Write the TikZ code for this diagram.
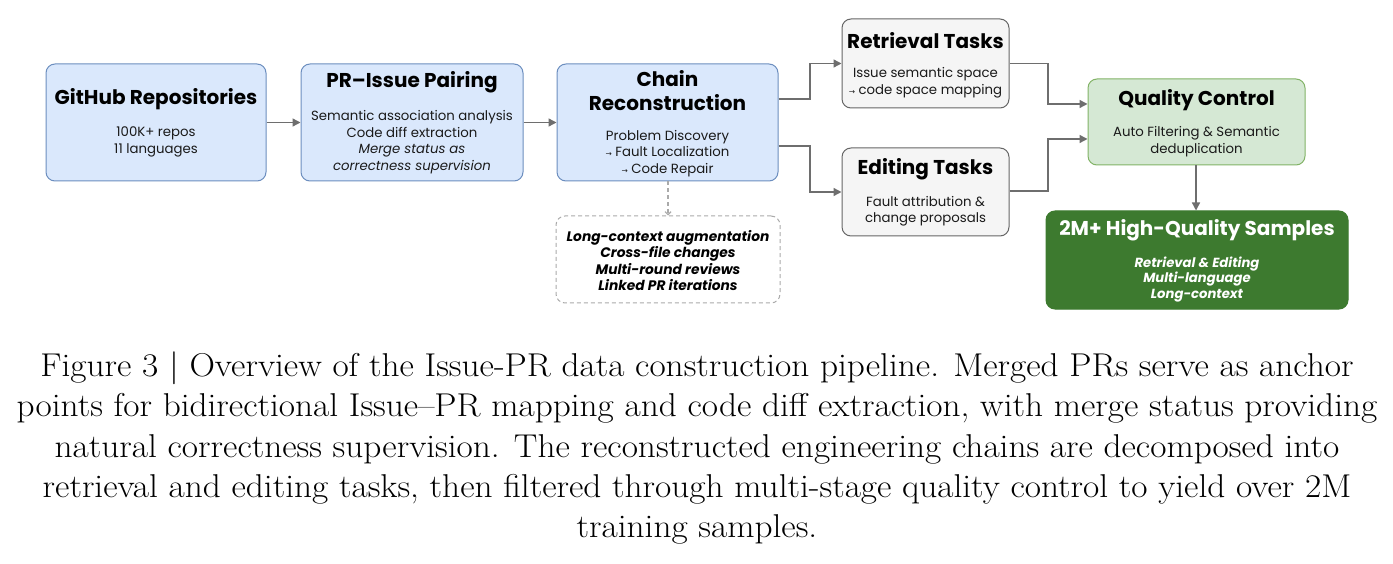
\documentclass[tikz,border=0pt]{standalone}
\usepackage{fontspec}
\newfontfamily\pop{Poppins}
\newfontfamily\djv{DejaVu Sans}
\usetikzlibrary{arrows.meta}
\definecolor{bfill}{HTML}{DAE8FC}
\definecolor{bdraw}{HTML}{6C8EBF}
\definecolor{gfill}{HTML}{F5F5F5}
\definecolor{gdraw}{HTML}{666666}
\definecolor{qfill}{HTML}{D5E8D4}
\definecolor{qdraw}{HTML}{82B366}
\definecolor{dgreen}{HTML}{3D7A2F}
\definecolor{arrc}{HTML}{6E6E6E}
\definecolor{dashc}{HTML}{AAAAAA}
\definecolor{txt}{HTML}{1A1A1A}
\newcommand{\sarr}{{\djv\fontsize{7.5}{7.5}\selectfont →}}
\begin{document}
\begin{tikzpicture}[x=1pt,y=-1pt,
  box/.style={rounded corners=9pt, line width=1pt, inner sep=0pt},
  bluebox/.style={box, fill=bfill, draw=bdraw},
  greybox/.style={box, fill=gfill, draw=gdraw},
  qcbox/.style={box, fill=qfill, draw=qdraw},
  outbox/.style={box, fill=dgreen, draw=dgreen},
  dashbox/.style={box, fill=white, draw=dashc, dashed, dash pattern=on 4pt off 3pt},
  ttl/.style={font=\pop\bfseries\fontsize{20}{24}\selectfont, align=center, inner sep=0pt, text=black},
  bdy/.style={font=\pop\fontsize{13.3}{16.5}\selectfont, align=center, inner sep=0pt, text=txt},
  arr/.style={draw=arrc, line width=1.4pt, -{Triangle[length=8pt,width=8pt]}},
  darr/.style={draw=dashc, line width=1.2pt, dashed, dash pattern=on 4pt off 3pt, -{Straight Barb[length=3pt,width=6pt]}},
]
\useasboundingbox (0,0) rectangle (1393,564);
\fill[white] (0,0) rectangle (1393,564);

% boxes
\node[bluebox, minimum width=220pt, minimum height=117pt] (gh) at (156,122.5) {};
\node[bluebox, minimum width=222pt, minimum height=117pt] (pr) at (412,122.5) {};
\node[bluebox, minimum width=221pt, minimum height=117pt] (ch) at (667.5,122.5) {};
\node[greybox, minimum width=167pt, minimum height=89pt] (ret) at (925.5,63.5) {};
\node[greybox, minimum width=167pt, minimum height=88pt] (edt) at (925.5,192) {};
\node[qcbox, minimum width=217pt, minimum height=86pt] (qc) at (1196.5,122) {};
\node[outbox, minimum width=302pt, minimum height=98pt] (out) at (1197,260) {};
\node[dashbox, minimum width=224pt, minimum height=87pt] (aug) at (668,259.5) {};

% texts
\node[ttl] (ghT) at (156,99) {GitHub Repositories};
\node[bdy] (ghB) at (156,142) {100K+ repos\\11 languages};
\node[ttl] (prT) at (412,82) {PR–Issue Pairing};
\node[bdy] (prB) at (412,142) {Semantic association analysis\\Code diff extraction\\\textit{Merge status as}\\\textit{correctness supervision}};
\node[ttl] (chT) at (667.5,91) {Chain\\Reconstruction};
\node[bdy] (chB) at (667.5,153.5) {Problem Discovery\\\sarr{} Fault Localization\\\sarr{} Code Repair};
\node[ttl] (retT) at (925.5,41) {Retrieval Tasks};
\node[bdy] (retB) at (925.5,82.5) {Issue semantic space\\\sarr{} code space mapping};
\node[ttl] (edtT) at (925.5,169) {Editing Tasks};
\node[bdy] (edtB) at (925.5,211) {Fault attribution \&\\change proposals};
\node[ttl] (qcT) at (1196.5,100) {Quality Control};
\node[bdy] (qcB) at (1196.5,141.5) {Auto Filtering \& Semantic\\deduplication};
\node[ttl, text=white] (outT) at (1197,230) {2M+ High-Quality Samples};
\node[bdy, text=white, font=\pop\bfseries\itshape\fontsize{13.2}{15.5}\selectfont] (outB) at (1197,279.5) {Retrieval \& Editing\\Multi-language\\Long-context};
\node[bdy, text=black, font=\pop\bfseries\itshape\fontsize{13.8}{16.3}\selectfont] (augB) at (668,260.5) {Long-context augmentation\\Cross-file changes\\Multi-round reviews\\Linked PR iterations};

% connectors
\coordinate (e1) at (810,0);
\coordinate (e2) at (1048,0);
\draw[arr] (gh.east) -- (pr.west);
\draw[arr] (pr.west -| pr.east) -- (ch.west);
\draw[arr] (ch.east |- 0,99) -| (e1 |- 0,80) |- (ret.west);
\draw[arr] (ch.east |- 0,146) -| (e1 |- 0,170) |- (edt.west);
\draw[arr] (ret.east) -| (e2 |- 0,90) |- (qc.west |- 0,104);
\draw[arr] (edt.east |- 0,191) -| (e2 |- 0,160) |- (qc.west |- 0,139);
\draw[arr] (qc.south -| 1196,0) -- (out.north -| 1196,0);
\draw[darr] (ch.south -| 668,0) -- (aug.north -| 668,0);

% caption
\node[font=\fontsize{33}{40.2}\selectfont, inner sep=0pt] (cap) at (697,449) {\scalebox{1.07}[1]{\begin{tabular}{@{}c@{}}Figure 3 | Overview of the Issue-PR data construction pipeline. Merged PRs serve as anchor\\points for bidirectional Issue–PR mapping and code diff extraction, with merge status providing\\natural correctness supervision. The reconstructed engineering chains are decomposed into\\retrieval and editing tasks, then filtered through multi-stage quality control to yield over 2M\\training samples.\end{tabular}}};
\end{tikzpicture}
\end{document}
